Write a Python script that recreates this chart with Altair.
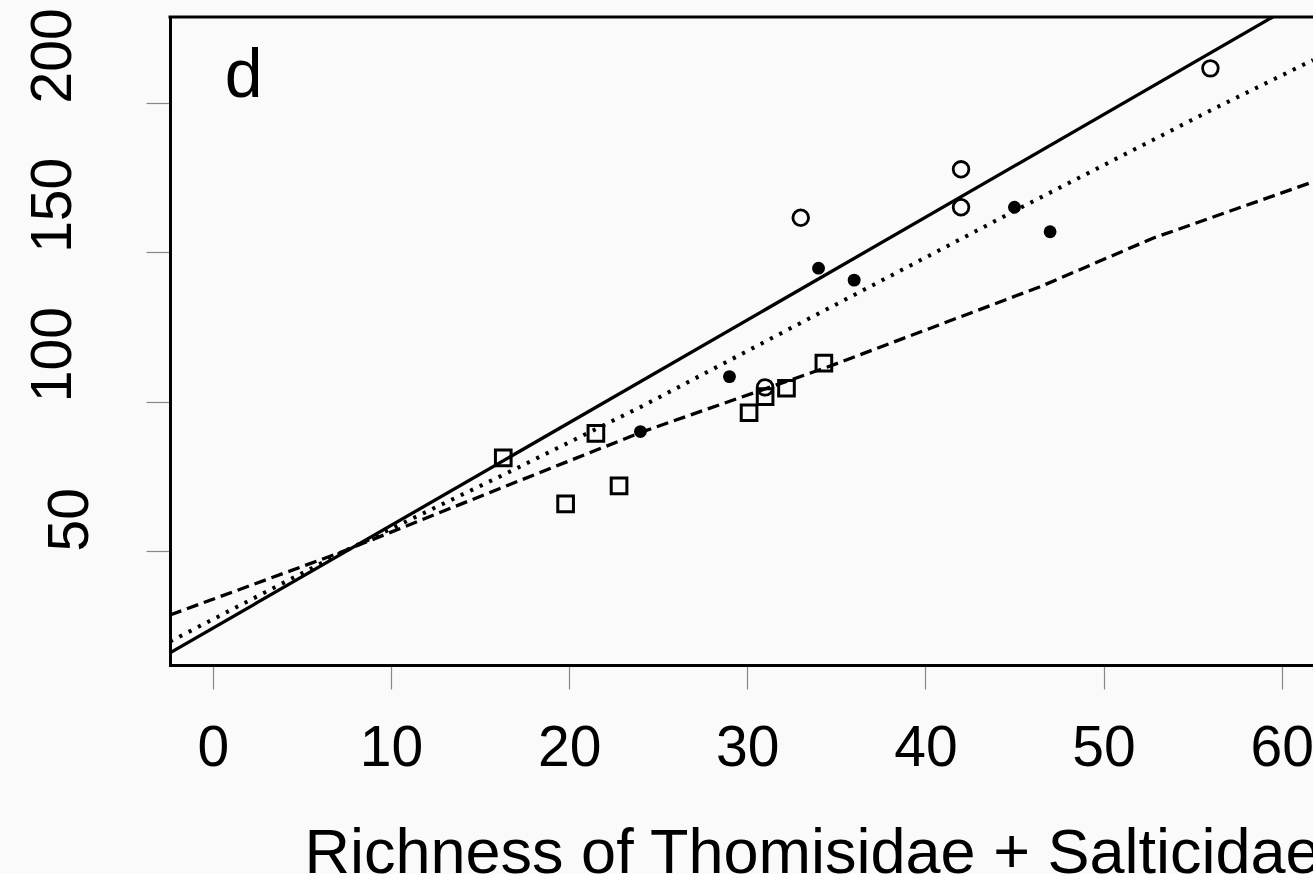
import altair as alt
import pandas as pd

# Observed sites, three groups (richness on x, response on y)
circle_x = [33, 42, 42, 56, 31]
circle_y = [161.6, 177.8, 165.1, 211.6, 104.8]

dot_x = [34, 36, 29, 24, 45, 47]
dot_y = [144.7, 140.7, 108.4, 90.0, 165.1, 156.9]

square_x = [16.3, 21.5, 19.8, 22.8, 30.1, 31.0, 32.2, 34.3]
square_y = [81.2, 89.4, 65.8, 71.8, 96.3, 101.7, 104.5, 112.9]

# Fitted curves
solid_x = [-2.41, 59.5]
solid_y = [15.9, 228.8]

dotted_x = [-2.41, 7.5, 16.3, 24.1, 34.0, 45.1, 56.0, 61.76]
dotted_y = [19.7, 50.3, 75.5, 98.5, 129.5, 164.2, 197.5, 214.4]

dashed_x = [-2.41, 7.1, 16.3, 24.1, 34.5, 46.4, 52.8, 61.76]
dashed_y = [28.6, 49.4, 71.4, 89.9, 111.6, 138.4, 154.8, 173.6]

# Axes
x_ticks = [0, 10, 20, 30, 40, 50, 60]
y_ticks = [50, 100, 150, 200]
x_domain = [-2.41, 61.76]
y_domain = [11.85, 228.8]
x_title = "Richness of Thomisidae + Salticidae"

# Panel letter
panel_text = ["d"]
panel_x = [0.66]
panel_y = [202.1]

FONT = "Liberation Sans"
W, H = 1143, 648


def frame(xs, ys):
    return pd.DataFrame({"x": xs, "y": ys})


x_axis = alt.Axis(
    values=x_ticks, title=x_title, grid=False,
    domainColor="black", domainWidth=3, domainCap="square",
    tickColor="#888888", tickWidth=1.2, tickSize=24,
    labelFont=FONT, labelFontSize=57, labelColor="black",
    labelPadding=31, labelFlush=False, labelOverlap=False,
    titleFont=FONT, titleFontSize=63, titleFontWeight="normal",
    titleColor="black", titleAlign="left", titleBaseline="alphabetic",
    titleX=134, titleY=207,
)
y_axis = alt.Axis(
    values=y_ticks, title="", grid=False,
    domainColor="black", domainWidth=3, domainCap="square",
    tickColor="#888888", tickWidth=1.2, tickSize=24,
    labelFont=FONT, labelFontSize=57, labelColor="black",
    labelAngle=270, labelAlign="left", labelBaseline="alphabetic",
    labelPadding={"condition": {"test": "datum.value == 50", "value": 59}, "value": 76},
    labelOverlap=False, labelFlush=False,
)

X = alt.X("x:Q", scale=alt.Scale(domain=x_domain, nice=False, zero=False), axis=x_axis)
Y = alt.Y("y:Q", scale=alt.Scale(domain=y_domain, nice=False, zero=False), axis=y_axis)

solid = alt.Chart(frame(solid_x, solid_y)).mark_line(
    color="black", strokeWidth=3.3, clip=True
).encode(X, Y)

dotted = alt.Chart(frame(dotted_x, dotted_y)).mark_line(
    color="black", strokeWidth=4, strokeDash=[3.2, 7.3], clip=True
).encode(X, Y)

dashed = alt.Chart(frame(dashed_x, dashed_y)).mark_line(
    color="black", strokeWidth=3.3, strokeDash=[12, 6], clip=True
).encode(X, Y)

circles = alt.Chart(frame(circle_x, circle_y)).mark_point(
    shape="circle", filled=False, size=245, strokeWidth=2.8, color="black", opacity=1
).encode(X, Y)

dots = alt.Chart(frame(dot_x, dot_y)).mark_circle(
    size=165, color="black", opacity=1
).encode(X, Y)

squares = alt.Chart(frame(square_x, square_y)).mark_point(
    shape="square", filled=False, size=245, strokeWidth=3, color="black", opacity=1
).encode(X, Y)

panel = alt.Chart(pd.DataFrame({"x": panel_x, "y": panel_y, "t": panel_text})).mark_text(
    align="left", baseline="alphabetic", font=FONT, fontSize=68, color="black"
).encode(X, Y, text="t:N")

# top edge of the plot box
top_edge = alt.Chart(pd.DataFrame({"k": [0]})).mark_rule(
    color="black", strokeWidth=3, strokeCap="square"
).encode(x=alt.value(0), x2=alt.value(W), y=alt.value(0))

chart = alt.layer(
    solid, dotted, dashed, circles, dots, squares, panel, top_edge
).properties(
    width=W, height=H,
    autosize=alt.AutoSizeParams(type="none"),
    padding={"left": 170, "top": 17, "right": 0, "bottom": 209},
    background="#fafafa",
).configure_view(strokeOpacity=0)

chart.save("out.html", embed_options={"renderer": "svg", "actions": False})
